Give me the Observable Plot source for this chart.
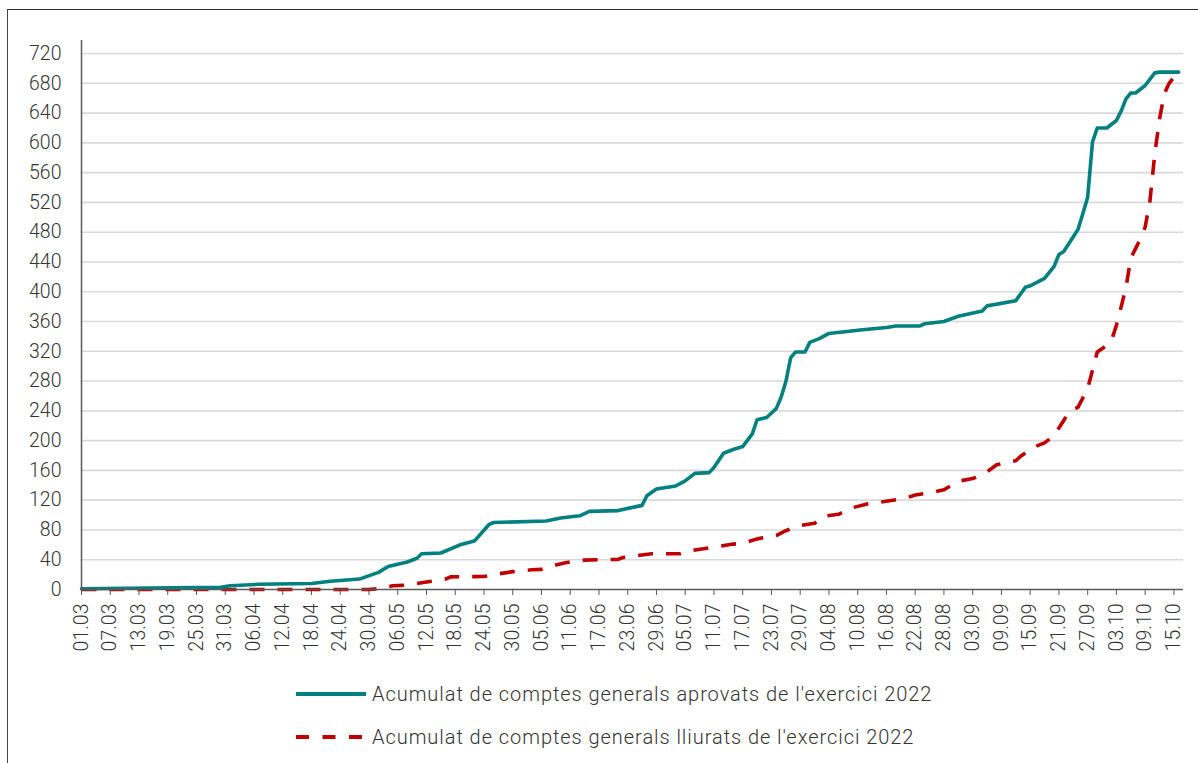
<!DOCTYPE html>
<html><head><meta charset="utf-8">
<script src="https://cdn.jsdelivr.net/npm/d3@7"></script>
<script src="https://cdn.jsdelivr.net/npm/@observablehq/plot@0.6"></script>
<style>
body{margin:0;background:#fff;width:1198px;height:763px;overflow:hidden;position:relative;font-family:Roboto,"Liberation Sans",sans-serif;font-weight:300;color:#333}
#frame{position:absolute;left:7px;top:9px;width:1300px;height:900px;border-top:1px solid #333;border-left:1px solid #444}
#chart{position:absolute;left:0;top:0}
.leg{position:absolute;left:294px;height:30px;display:flex;align-items:center;font-size:20px;white-space:nowrap}
.leg span{letter-spacing:0.95px}
.leg svg{margin-right:2px}
</style></head>
<body>
<div id="frame"></div>
<div id="chart"></div>
<div class="leg" id="leg1" style="top:679px"></div>
<div class="leg" id="leg2" style="top:722px"></div>
<script>
const seriesNames = ["Acumulat de comptes generals aprovats de l'exercici 2022", "Acumulat de comptes generals lliurats de l'exercici 2022"];
const xDomain = ["01.03", "17.10"];
const xTickLabels = ["01.03","07.03","13.03","19.03","25.03","31.03","06.04","12.04","18.04","24.04","30.04","06.05","12.05","18.05","24.05","30.05","05.06","11.06","17.06","23.06","29.06","05.07","11.07","17.07","23.07","29.07","04.08","10.08","16.08","22.08","28.08","03.09","09.09","15.09","21.09","27.09","03.10","09.10","15.10"];
const yTicks = [0,40,80,120,160,200,240,280,320,360,400,440,480,520,560,600,640,680,720];

const aprovatsDates = ["01.03","15.03","30.03","01.04","07.04","18.04","22.04","28.04","02.05","04.05","08.05","10.05","11.05","15.05","19.05","22.05","25.05","26.05","06.06","09.06","13.06","15.06","21.06","26.06","27.06","29.06","03.07","05.07","07.07","10.07","11.07","13.07","15.07","17.07","19.07","20.07","22.07","24.07","25.07","26.07","27.07","28.07","30.07","31.07","02.08","04.08","11.08","16.08","18.08","23.08","24.08","28.08","31.08","05.09","06.09","12.09","14.09","15.09","18.09","20.09","21.09","22.09","25.09","26.09","27.09","28.09","29.09","01.10","03.10","04.10","05.10","06.10","07.10","09.10","11.10","12.10","16.10"];
const aprovatsValues = [1,2,3,5,7,8,11,14,23,31,37,42,48,49,60,65,87,90,92,96,99,105,106,113,126,135,139,146,156,157,164,183,188,192,209,228,231,243,258,279,311,319,319,332,337,344,349,352,354,354,357,360,367,374,381,388,406,408,418,434,450,454,484,505,527,601,620,620,630,643,659,667,667,677,694,695,695];

const lliuratsDates = ["01.03","30.04","02.05","05.05","08.05","10.05","12.05","16.05","17.05","24.05","27.05","30.05","03.06","05.06","08.06","10.06","14.06","21.06","22.06","28.06","04.07","06.07","12.07","15.07","17.07","20.07","24.07","26.07","29.07","01.08","03.08","06.08","09.08","12.08","17.08","20.08","22.08","26.08","28.08","31.08","03.09","06.09","08.09","11.09","12.09","13.09","16.09","18.09","20.09","22.09","23.09","25.09","27.09","29.09","01.10","02.10","03.10","04.10","05.10","06.10","08.10","09.10","10.10","11.10","12.10","13.10","14.10","16.10"];
const lliuratsValues = [0,0,1,5,6,8,10,14,17,17.5,21,24,26.5,27,33,36,39.5,40.5,43,48,48,52,58,61,62,68,72.5,79,86,89,98.5,101,110,115,119.5,122.6,127,131,134,145.5,149,158,167.5,172,173,179,192,197,207,227,238,245,270,319,328,335,355,380,406,445,471,487,522,585,632,666,680,696];

const colors = ["#00807f", "#c00000"];

const parse = s => new Date(Date.UTC(2023, +s.slice(3,5) - 1, +s.slice(0,2)));
const aprovats = aprovatsDates.map((d,i) => ({date: parse(d), value: aprovatsValues[i]}));
const lliurats = lliuratsDates.map((d,i) => ({date: parse(d), value: lliuratsValues[i]}));
const xStart = parse(xDomain[0]), xEnd = parse(xDomain[1]);
const font = 'Roboto, "Liberation Sans", sans-serif';

const chart = Plot.plot({
  width: 1198, height: 664,
  marginLeft: 81, marginRight: 15, marginTop: 40, marginBottom: 75,
  style: {fontFamily: font, fontSize: "19.5px", fontWeight: 300, color: "#333", background: "transparent"},
  x: {type: "utc", domain: [xStart, xEnd], label: null},
  y: {domain: [0, 737.5], label: null},
  marks: [
    Plot.gridY(yTicks.filter(v => v > 0), {stroke: "#d9d9d9", strokeOpacity: 1, strokeWidth: 1.6}),
    Plot.axisY(yTicks, {tickSize: 0, tickPadding: 20, fontSize: "19.5px", label: null}),
    Plot.axisX(xTickLabels.map(parse), {tickFormat: d3.utcFormat("%d.%m"), tickRotate: -90, tickSize: 6, tickPadding: 8, stroke: "#595959", fontSize: "19.5px", label: null}),
    Plot.line(lliurats, {x: "date", y: "value", stroke: colors[1], strokeWidth: 3.6, strokeDasharray: "15,13", strokeLinecap: "butt"}),
    Plot.line(aprovats, {x: "date", y: "value", stroke: colors[0], strokeWidth: 3.6}),
    Plot.ruleY([0], {stroke: "#595959", strokeWidth: 1.5}),
    Plot.ruleX([xStart], {stroke: "#595959", strokeWidth: 1.5})
  ]
});
document.getElementById("chart").appendChild(chart);

function legend(id, name, color, dash) {
  const el = document.getElementById(id);
  el.innerHTML = `<svg width="76" height="10"><line x1="2" x2="72" y1="5" y2="5" stroke="${color}" stroke-width="4" ${dash ? 'stroke-dasharray="13,13.5"' : ''}/></svg><span>${name}</span>`;
}
legend("leg1", seriesNames[0], colors[0], false);
legend("leg2", seriesNames[1], colors[1], true);
</script>
</body></html>
